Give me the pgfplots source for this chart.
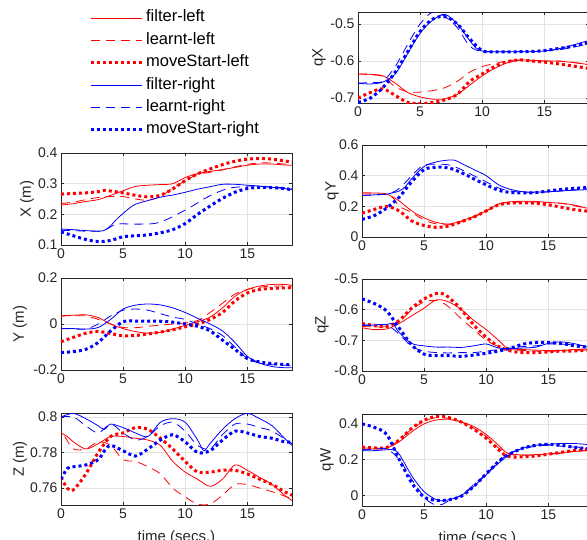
\documentclass[border=0pt]{standalone}
\usepackage{fontspec}
\setmainfont{Liberation Sans}
\usepackage{pgfplots}
\pgfplotsset{compat=1.18}

\definecolor{axgray}{RGB}{38,38,38}
\definecolor{mred}{RGB}{255,0,0}
\definecolor{mblue}{RGB}{0,0,255}

\pgfplotsset{
  mat/.style={
    width=231pt, height=92pt, scale only axis,
    anchor=north west,
    xmin=0, xmax=18.6, xtick={0,5,10,15},
    grid=major, grid style={gray!22, line width=0.5pt},
    axis line style={axgray, line width=0.5pt},
    tick style={axgray, line width=0.5pt},
    major tick length=3pt, tick align=inside,
    ticklabel style={font=\fontsize{14}{16}\selectfont, text=axgray},
    label style={font=\fontsize{15}{17}\selectfont, text=axgray},
    xlabel style={yshift=-5pt},
    /pgf/number format/assume math mode=true,
  },
  ylab/.style={ylabel style={at={(axis description cs:#1,0.5)}, anchor=center}},
  fl/.style={mred, line width=0.8pt, smooth},
  ll/.style={mred, line width=0.8pt, dash pattern=on 9pt off 6pt, smooth},
  ml/.style={mred, line width=3pt, dash pattern=on 3pt off 3pt, smooth},
  fr/.style={mblue, line width=0.8pt, smooth},
  lr/.style={mblue, line width=0.8pt, dash pattern=on 9pt off 6pt, smooth},
  mr/.style={mblue, line width=3pt, dash pattern=on 3pt off 3pt, smooth},
}

\begin{document}
\begin{tikzpicture}
\useasboundingbox (0pt,0pt) rectangle (587pt,-539pt);

% X
\begin{axis}[mat, at={(61pt,-153pt)}, ymin=0.1, ymax=0.4, ytick={0.1,0.2,0.3,0.4},
  ylabel={X (m)}, ylab=-0.147,
  legend style={draw=none, fill=none, inner sep=0pt, at={(axis description cs:0.121,2.568)}, anchor=north west,
    font=\fontsize{16.5}{18}\selectfont, row sep=4.4pt, column sep=2pt,
    nodes={inner sep=1pt, text height=12pt, text depth=4pt}},
  legend cell align=left,
  legend image code/.code={\draw[#1] (0pt,0pt) -- (51pt,0pt);}]
\addplot[fl] coordinates {(0,0.23)(1,0.235)(2,0.242)(3,0.248)(4,0.262)(5,0.277)(6,0.291)(7,0.295)(8,0.297)(9,0.3)(10,0.32)(11,0.333)(12,0.34)(13,0.346)(14,0.353)(15,0.36)(16,0.364)(17,0.364)(18,0.361)(18.6,0.36)};
\addplot[ll] coordinates {(0,0.235)(1,0.24)(2,0.248)(3,0.255)(4,0.258)(5,0.258)(6,0.25)(7,0.246)(8,0.258)(9,0.285)(10,0.31)(11,0.33)(12,0.337)(13,0.345)(14,0.355)(15,0.363)(16,0.368)(17,0.367)(18.6,0.362)};
\addplot[ml] coordinates {(0,0.266)(1,0.268)(2,0.27)(3,0.274)(3.5,0.278)(4,0.276)(5,0.27)(6,0.262)(7,0.257)(8,0.262)(9,0.283)(10,0.31)(11,0.332)(12,0.348)(13,0.362)(14,0.373)(15,0.38)(16,0.382)(17,0.38)(18,0.374)(18.6,0.37)};
\addplot[fr] coordinates {(0,0.152)(1,0.15)(2,0.147)(3,0.145)(3.5,0.148)(4,0.163)(4.5,0.185)(5,0.203)(5.5,0.22)(6,0.233)(7,0.245)(8,0.256)(9,0.263)(10,0.272)(11,0.282)(12,0.29)(13,0.298)(14,0.298)(15,0.295)(16,0.292)(17,0.288)(18,0.284)(18.6,0.28)};
\addplot[lr] coordinates {(0,0.148)(1,0.147)(2,0.145)(3,0.145)(3.5,0.148)(4.5,0.168)(6,0.168)(7.5,0.17)(8.5,0.183)(9.5,0.203)(10.5,0.225)(11.5,0.25)(12.5,0.27)(13.5,0.285)(14.5,0.29)(15.5,0.293)(16.5,0.29)(17.5,0.288)(18.6,0.285)};
\addplot[mr] coordinates {(0,0.143)(1,0.13)(2,0.118)(3,0.111)(4,0.115)(5,0.127)(6,0.13)(7,0.133)(8,0.14)(9,0.15)(10,0.17)(11,0.2)(12,0.227)(13,0.252)(14,0.272)(15,0.284)(16,0.288)(17,0.287)(18,0.284)(18.6,0.28)};
\legend{filter-left, learnt-left, moveStart-left, filter-right, learnt-right, moveStart-right}
\end{axis}

% Y
\begin{axis}[mat, at={(61pt,-278pt)}, ymin=-0.2, ymax=0.2, ytick={-0.2,0,0.2},
  ylabel={Y (m)}, ylab=-0.1775]
\addplot[fl] coordinates {(0,0.036)(1,0.038)(2,0.04)(3,0.028)(4,0.0)(5,-0.02)(6,-0.033)(7,-0.04)(8,-0.036)(9,-0.022)(10,-0.006)(11,0.01)(12,0.03)(13,0.07)(14,0.12)(15,0.15)(16,0.165)(17,0.172)(18,0.172)(18.6,0.168)};
\addplot[ll] coordinates {(0,0.035)(1,0.036)(2,0.035)(3,0.02)(4,0.0)(5,-0.015)(6,-0.016)(7,-0.01)(8,-0.005)(9,0.0)(10,0.005)(11,0.015)(12,0.05)(13,0.09)(14,0.13)(15,0.15)(16,0.16)(17,0.165)(18.6,0.165)};
\addplot[ml] coordinates {(0,-0.077)(1,-0.058)(2,-0.04)(3,-0.032)(4,-0.042)(5,-0.051)(6,-0.05)(7,-0.043)(8,-0.035)(9,-0.025)(10,-0.012)(11,0.0)(12,0.02)(13,0.05)(14,0.1)(15,0.135)(16,0.15)(17,0.155)(18,0.157)(18.6,0.158)};
\addplot[fr] coordinates {(0,-0.019)(1,-0.02)(2,-0.022)(3,-0.015)(4,0.02)(5,0.065)(6,0.082)(7,0.087)(8,0.083)(9,0.07)(10,0.05)(11,0.025)(12,0.0)(13,-0.03)(14,-0.08)(15,-0.14)(16,-0.17)(17,-0.185)(18,-0.19)(18.6,-0.19)};
\addplot[lr] coordinates {(0,-0.02)(1,-0.021)(2,-0.022)(3,0.0)(4,0.035)(5,0.06)(6,0.065)(7,0.06)(8,0.045)(9,0.03)(10,0.02)(11,0.0)(12,-0.02)(13,-0.05)(14,-0.1)(15,-0.15)(16,-0.17)(17,-0.177)(18.6,-0.18)};
\addplot[mr] coordinates {(0,-0.124)(1,-0.12)(2,-0.11)(3,-0.08)(4,-0.03)(5,0.01)(6,0.013)(7,0.012)(8,0.012)(9,0.008)(10,0.0)(11,-0.01)(12,-0.03)(13,-0.07)(14,-0.11)(15,-0.15)(16,-0.165)(17,-0.172)(18,-0.176)(18.6,-0.178)};
\end{axis}

% Z
\begin{axis}[mat, at={(61pt,-413pt)}, ymin=0.7505, ymax=0.8022, ytick={0.76,0.78,0.8},
  yticklabels={0.76,0.78,0.8},
  ylabel={Z (m)}, ylab=-0.1775,
  xlabel={time (secs.)}]
\addplot[fl] coordinates {(0,0.791)(0.5,0.789)(1,0.786)(2,0.782)(3,0.785)(4,0.789)(5,0.789)(6,0.788)(7,0.787)(8,0.784)(9,0.775)(10,0.769)(11,0.765)(12,0.761)(13,0.765)(14,0.773)(15,0.77)(16,0.766)(17,0.762)(18,0.756)(18.6,0.753)};
\addplot[ll] coordinates {(0.3,0.789)(1,0.782)(2,0.782)(3,0.786)(4,0.784)(5,0.776)(6,0.775)(7,0.772)(8,0.768)(9,0.76)(10,0.755)(11,0.751)(12,0.751)(13,0.756)(14,0.762)(15,0.762)(16,0.76)(17,0.758)(18.6,0.754)};
\addplot[ml] coordinates {(0,0.766)(0.5,0.76)(1,0.759)(2,0.768)(3,0.78)(4,0.789)(5,0.791)(6,0.794)(7,0.793)(8,0.788)(9,0.782)(10,0.775)(11,0.769)(12,0.769)(13,0.77)(14,0.77)(15,0.768)(16,0.765)(17,0.762)(18,0.758)(18.6,0.756)};
\addplot[fr] coordinates {(0,0.8)(1,0.802)(2,0.799)(3,0.795)(3.5,0.793)(4,0.796)(5,0.794)(6,0.791)(7,0.789)(8,0.797)(9,0.799)(10,0.797)(11,0.787)(11.5,0.781)(12,0.785)(13,0.793)(14,0.799)(15,0.802)(16,0.799)(17,0.795)(18,0.788)(18.6,0.784)};
\addplot[lr] coordinates {(0,0.8)(1,0.8)(2,0.795)(3,0.791)(4,0.796)(5,0.791)(6,0.787)(7,0.789)(8,0.795)(9,0.797)(10,0.792)(11,0.784)(12,0.782)(13,0.79)(14,0.796)(15,0.796)(16,0.794)(17,0.792)(18.6,0.785)};
\addplot[mr] coordinates {(0,0.765)(0.5,0.771)(1,0.772)(2,0.773)(3,0.776)(3.5,0.781)(4,0.784)(5,0.781)(6,0.778)(7,0.782)(8,0.787)(9,0.79)(10,0.786)(11,0.78)(12,0.781)(13,0.787)(14,0.792)(15,0.791)(16,0.789)(17,0.788)(18,0.786)(18.6,0.786)};
\end{axis}

% qX
\begin{axis}[mat, at={(358pt,-12pt)}, height=91pt, ymin=-0.7135, ymax=-0.4676, ytick={-0.7,-0.6,-0.5},
  ylabel={qX}, ylab=-0.169]
\addplot[fl] coordinates {(0,-0.635)(1,-0.636)(2,-0.64)(3,-0.66)(4,-0.685)(5,-0.697)(6,-0.703)(7,-0.702)(8,-0.69)(9,-0.665)(10,-0.64)(11,-0.62)(12,-0.605)(13,-0.598)(14,-0.598)(15,-0.6)(16,-0.6)(17,-0.603)(18,-0.607)(18.6,-0.61)};
\addplot[ll] coordinates {(0,-0.635)(1,-0.637)(2,-0.642)(3,-0.67)(4,-0.683)(5,-0.684)(6,-0.68)(7,-0.672)(8,-0.655)(9,-0.63)(10,-0.615)(11,-0.607)(12,-0.6)(13,-0.597)(14,-0.6)(15,-0.6)(16,-0.6)(17,-0.602)(18.6,-0.61)};
\addplot[ml] coordinates {(0,-0.7)(1,-0.685)(2,-0.675)(3,-0.693)(4,-0.712)(5,-0.715)(6,-0.712)(7,-0.705)(8,-0.69)(9,-0.655)(10,-0.635)(11,-0.615)(12,-0.602)(13,-0.597)(14,-0.6)(15,-0.603)(16,-0.607)(17,-0.612)(18,-0.617)(18.6,-0.62)};
\addplot[fr] coordinates {(0,-0.66)(1,-0.662)(2,-0.657)(3,-0.635)(4,-0.58)(5,-0.525)(6,-0.49)(7,-0.474)(8,-0.5)(9,-0.545)(9.5,-0.565)(10,-0.573)(11,-0.575)(12,-0.575)(13,-0.575)(14,-0.575)(15,-0.573)(16,-0.568)(17,-0.56)(18,-0.55)(18.6,-0.545)};
\addplot[lr] coordinates {(0,-0.66)(1,-0.658)(2,-0.655)(3,-0.615)(4,-0.555)(5,-0.5)(6,-0.468)(7,-0.48)(8,-0.51)(9,-0.56)(10,-0.575)(11,-0.575)(12,-0.575)(13,-0.575)(14,-0.575)(15,-0.572)(16,-0.57)(17,-0.565)(18.6,-0.553)};
\addplot[mr] coordinates {(0,-0.712)(1,-0.7)(2,-0.672)(3,-0.63)(4,-0.575)(5,-0.52)(6,-0.487)(7,-0.48)(8,-0.5)(9,-0.54)(10,-0.572)(11,-0.575)(12,-0.575)(13,-0.575)(14,-0.574)(15,-0.572)(16,-0.567)(17,-0.562)(18,-0.555)(18.6,-0.55)};
\end{axis}

% qY
\begin{axis}[mat, at={(362pt,-145pt)}, ymin=0, ymax=0.6, ytick={0,0.2,0.4,0.6},
  ylabel={qY}, ylab=-0.1299]
\addplot[fl] coordinates {(0,0.288)(1,0.287)(2,0.28)(3,0.235)(4,0.17)(5,0.125)(6,0.095)(7,0.085)(8,0.105)(9,0.135)(10,0.17)(11,0.215)(12,0.23)(13,0.233)(14,0.232)(15,0.225)(16,0.22)(17,0.21)(18,0.19)(18.6,0.18)};
\addplot[ll] coordinates {(0,0.28)(1,0.28)(2,0.275)(2.5,0.255)(3,0.2)(4,0.16)(5,0.11)(6,0.085)(7,0.08)(8,0.1)(9,0.13)(10,0.17)(11,0.215)(12,0.225)(13,0.228)(14,0.228)(16,0.22)(17,0.205)(18.6,0.18)};
\addplot[ml] coordinates {(0,0.155)(1,0.18)(2,0.2)(3,0.17)(4,0.105)(5,0.075)(6,0.063)(7,0.072)(8,0.1)(9,0.13)(10,0.17)(11,0.21)(12,0.222)(13,0.223)(14,0.22)(15,0.21)(16,0.195)(17,0.18)(18,0.17)(18.6,0.165)};
\addplot[fr] coordinates {(0,0.27)(1,0.275)(2,0.28)(3,0.3)(3.5,0.33)(4,0.38)(5,0.46)(6,0.49)(7,0.502)(7.5,0.5)(8,0.48)(9,0.44)(10,0.4)(11,0.34)(12,0.31)(13,0.295)(14,0.293)(15,0.295)(16,0.3)(17,0.305)(18,0.308)(18.6,0.31)};
\addplot[lr] coordinates {(0,0.27)(1,0.275)(2,0.28)(2.7,0.3)(3.3,0.34)(4,0.4)(4.5,0.44)(5,0.47)(6,0.475)(7,0.47)(8,0.44)(9,0.4)(10,0.36)(11,0.32)(12,0.3)(13,0.29)(14,0.29)(16,0.3)(17,0.307)(18.6,0.315)};
\addplot[mr] coordinates {(0,0.115)(1,0.14)(2,0.19)(3,0.26)(4,0.36)(5,0.44)(6,0.455)(7,0.45)(8,0.42)(9,0.38)(10,0.34)(11,0.305)(12,0.29)(13,0.287)(14,0.29)(15,0.3)(16,0.31)(17,0.317)(18,0.322)(18.6,0.325)};
\end{axis}

% qZ
\begin{axis}[mat, at={(362pt,-279pt)}, ymin=-0.8, ymax=-0.5, ytick={-0.8,-0.7,-0.6,-0.5},
  ylabel={qZ}, ylab=-0.1732]
\addplot[fl] coordinates {(0,-0.659)(1,-0.665)(2,-0.663)(2.5,-0.655)(3,-0.645)(4,-0.62)(5,-0.595)(6,-0.568)(7,-0.575)(8,-0.6)(9,-0.635)(10,-0.665)(11,-0.7)(11.5,-0.72)(12,-0.728)(13,-0.73)(14,-0.732)(15,-0.733)(16,-0.733)(17,-0.73)(18,-0.729)(18.6,-0.728)};
\addplot[ll] coordinates {(0,-0.655)(1,-0.656)(2,-0.655)(3,-0.64)(4,-0.6)(5,-0.575)(6,-0.57)(6.8,-0.585)(7.5,-0.61)(8,-0.63)(9,-0.665)(10,-0.7)(11,-0.72)(12,-0.73)(14,-0.735)(16,-0.735)(18.6,-0.73)};
\addplot[ml] coordinates {(0,-0.645)(1,-0.652)(2,-0.655)(3,-0.635)(4,-0.595)(5,-0.565)(6,-0.547)(6.5,-0.548)(7,-0.56)(8,-0.6)(9,-0.65)(10,-0.69)(11,-0.72)(12,-0.735)(13,-0.74)(14,-0.74)(15,-0.738)(16,-0.735)(17,-0.735)(18,-0.732)(18.6,-0.73)};
\addplot[fr] coordinates {(0,-0.652)(1,-0.65)(2,-0.648)(2.5,-0.646)(3,-0.675)(4,-0.71)(5,-0.718)(6,-0.722)(7,-0.722)(8,-0.723)(9,-0.718)(10,-0.712)(11,-0.725)(12,-0.727)(13,-0.725)(14,-0.722)(15,-0.71)(16,-0.705)(17,-0.71)(18,-0.72)(18.6,-0.728)};
\addplot[lr] coordinates {(0,-0.65)(1,-0.65)(2,-0.65)(3,-0.68)(4,-0.72)(5,-0.735)(6,-0.74)(7,-0.741)(8,-0.74)(9,-0.74)(10,-0.735)(11,-0.73)(12,-0.725)(13,-0.72)(14,-0.718)(15,-0.712)(16,-0.712)(17,-0.715)(18.6,-0.72)};
\addplot[mr] coordinates {(0,-0.565)(1,-0.58)(2,-0.605)(3,-0.66)(4,-0.715)(5,-0.745)(6,-0.75)(7,-0.75)(8,-0.752)(9,-0.748)(10,-0.742)(11,-0.735)(12,-0.725)(13,-0.712)(14,-0.707)(15,-0.707)(16,-0.71)(17,-0.717)(18,-0.722)(18.6,-0.725)};
\end{axis}

% qW
\begin{axis}[mat, at={(362pt,-414pt)}, ymin=-0.06, ymax=0.455, ytick={0,0.2,0.4},
  ylabel={qW}, ylab=-0.1515,
  xlabel={time (secs.)}]
\addplot[fl] coordinates {(0,0.257)(1,0.26)(2,0.265)(3,0.3)(4,0.355)(5,0.4)(6,0.422)(7,0.425)(8,0.41)(9,0.385)(10,0.34)(11,0.28)(11.5,0.245)(12,0.232)(13,0.225)(14,0.228)(15,0.232)(16,0.238)(17,0.245)(18,0.25)(18.6,0.255)};
\addplot[ll] coordinates {(0,0.265)(1,0.265)(2,0.265)(3,0.31)(4,0.37)(5,0.415)(6,0.435)(7,0.43)(8,0.41)(9,0.375)(10,0.33)(11,0.265)(12,0.228)(13,0.225)(14,0.225)(16,0.235)(17,0.245)(18.6,0.255)};
\addplot[ml] coordinates {(0,0.27)(1,0.265)(2,0.268)(3,0.31)(4,0.375)(5,0.42)(6,0.442)(7,0.435)(8,0.41)(9,0.37)(10,0.32)(11,0.255)(11.5,0.225)(12,0.215)(13,0.215)(14,0.22)(15,0.23)(16,0.24)(17,0.25)(18,0.255)(18.6,0.257)};
\addplot[fr] coordinates {(0,0.25)(1,0.25)(2,0.255)(2.5,0.255)(3,0.23)(4,0.11)(5,0.02)(6,-0.025)(6.5,-0.03)(7,-0.025)(8,0.0)(9,0.05)(10,0.115)(11,0.18)(12,0.235)(13,0.265)(14,0.28)(15,0.285)(16,0.29)(17,0.29)(18,0.285)(18.6,0.275)};
\addplot[lr] coordinates {(0,0.255)(1,0.257)(2,0.26)(3,0.2)(4,0.09)(5,-0.01)(5.5,-0.04)(6,-0.055)(6.5,-0.05)(7,-0.03)(8,0.0)(9,0.06)(10,0.12)(11,0.19)(12,0.24)(13,0.26)(14,0.275)(15,0.28)(16,0.275)(17,0.27)(18.6,0.265)};
\addplot[mr] coordinates {(0,0.4)(1,0.38)(2,0.34)(3,0.2)(4,0.07)(5,-0.01)(6,-0.028)(7,-0.025)(8,-0.005)(9,0.05)(10,0.12)(11,0.19)(11.5,0.215)(12,0.235)(13,0.265)(14,0.28)(15,0.285)(16,0.28)(17,0.27)(18,0.262)(18.6,0.26)};
\end{axis}
\end{tikzpicture}
\end{document}
